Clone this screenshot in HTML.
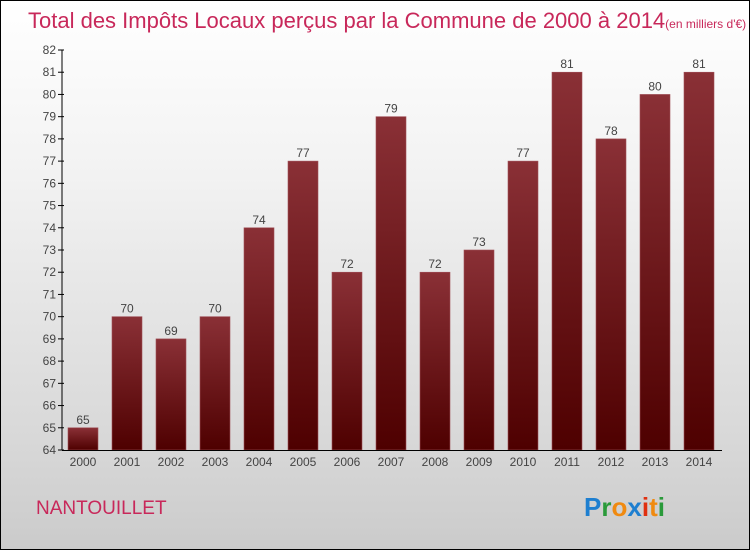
<!DOCTYPE html>
<html><head><meta charset="utf-8"><style>
body{margin:0}
#c{width:748px;height:548px;border:1px solid #000;background:linear-gradient(#fff,#f3f3f3 30%,#d8d8d8 80%,#cbcbcb);position:relative;font-family:"Liberation Sans",sans-serif;overflow:hidden}
</style></head><body>
<div id="c">
<svg width="748" height="548" id="s">
<defs><linearGradient id="g" x1="0" y1="0" x2="0" y2="1"><stop offset="0" stop-color="#8a3036"/><stop offset="1" stop-color="#4e0000"/></linearGradient></defs>
<text x="27" y="27" font-size="22" fill="#c8285a">Total des Impôts Locaux perçus par la Commune de 2000 à 2014<tspan font-size="12">(en milliers d'€)</tspan></text>
<text x="35" y="513" font-size="19" fill="#c8285a">NANTOUILLET</text>
<text x="583" y="515" font-size="26" font-weight="bold"><tspan fill="#1e7fd0">P</tspan><tspan fill="#2a9a3a">r</tspan><tspan fill="#f08a10">o</tspan><tspan fill="#1e7fd0">x</tspan><tspan fill="#e03010">i</tspan><tspan fill="#f08a10">t</tspan><tspan fill="#2a9a3a">i</tspan></text>
<g id="plot"></g>
</svg>
</div>
<script>
const years=["2000","2001","2002","2003","2004","2005","2006","2007","2008","2009","2010","2011","2012","2013","2014"];
const values=[65,70,69,70,74,77,72,79,72,73,77,81,78,80,81];
const yTicks=[64,65,66,67,68,69,70,71,72,73,74,75,76,77,78,79,80,81,82];
const ns="http://www.w3.org/2000/svg",p=document.getElementById('plot');
const y0=449,y1=49,vmin=64,vmax=82;
const Y=v=>y0-(v-vmin)/(vmax-vmin)*(y0-y1);
const X=i=>61+44*i;
function mk(t,a,txt){const e=document.createElementNS(ns,t);for(const k in a)e.setAttribute(k,a[k]);if(txt!=null)e.textContent=txt;p.appendChild(e);return e;}
yTicks.forEach(v=>{
 const t=mk('line',{x1:57,x2:63,y1:Y(v),y2:Y(v),stroke:'#000'});
 
 
 const l=mk('text',{x:55,y:Y(v)+4,'font-size':12,fill:'#444','text-anchor':'end'},v);
 
 
});
values.forEach((v,i)=>{
 const b=mk('rect',{x:X(i)+6,y:Y(v),width:30,height:y0-Y(v),fill:'url(#g)',stroke:'#a05058','stroke-width':0.6});
 
 
 const t=mk('text',{x:X(i)+21,y:Y(v)-4,'font-size':12,fill:'#444','text-anchor':'middle'},v);
 
 
 const xl=mk('text',{x:X(i)+21,y:y0+16,'font-size':12,fill:'#444','text-anchor':'middle'},years[i]);
 
 
});
const ya=mk('line',{x1:61,x2:61,y1:y1,y2:y0,stroke:'#000'});


const xa=mk('line',{x1:61,x2:721,y1:y0+0.5,y2:y0+0.5,stroke:'#000'});


</script>
</body></html>
